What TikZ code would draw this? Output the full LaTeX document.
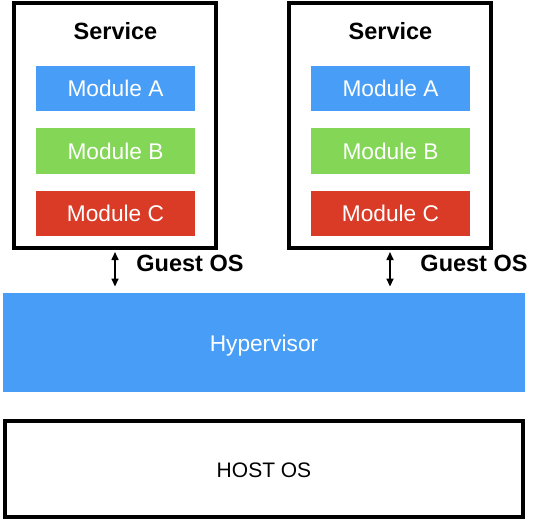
\documentclass[tikz,border=0pt]{standalone}
\usepackage{fontspec}
\setmainfont{Liberation Sans}
\usetikzlibrary{arrows.meta}
\definecolor{modblue}{RGB}{72,158,246}
\definecolor{modgreen}{RGB}{131,214,86}
\definecolor{modred}{RGB}{218,59,39}
\begin{document}
\begin{tikzpicture}[x=1pt,y=-1pt]
  \tikzset{
    service/.style={draw, line width=4pt, minimum width=202pt, minimum height=245pt, inner sep=0pt},
    module/.style={fill=#1, text=white, minimum width=159pt, minimum height=45.7pt, inner sep=0pt, font=\fontsize{22.7}{26}\selectfont},
    layer/.style={minimum width=522pt, minimum height=99.5pt, inner sep=0pt},
    layertext/.style={font=\fontsize{#1}{26}\selectfont},
    title/.style={font=\fontsize{23.5}{27}\selectfont\bfseries},
    guest/.style={<->, >={Triangle[length=8pt,width=7pt]}, line width=1.6pt, shorten <=2pt, shorten >=6pt}
  }
  \useasboundingbox (0,0) rectangle (534,522);

  % left guest
  \node [service] (svcL) at (115,125.5) {};
  \node [title] (titL) at (115.5,31) {Service};
  \node [module=modblue] (modAL) at (115.5,88.5) {Module A};
  \node [module=modgreen] (modBL) at (115.5,151) {Module B};
  \node [module=modred] (modCL) at (115.5,213.5) {Module C};

  % right guest
  \node [service] (svcR) at (390,125.5) {};
  \node [title] (titR) at (390.5,31) {Service};
  \node [module=modblue] (modAR) at (390.5,88.5) {Module A};
  \node [module=modgreen] (modBR) at (390.5,151) {Module B};
  \node [module=modred] (modCR) at (390.5,213.5) {Module C};

  % layers
  \node [layer, fill=modblue] (hyp) at (264,342.5) {};
  \node [layertext=22.7, text=white] (hypText) at ([yshift=-3pt]hyp.center) {Hypervisor};
  \node [layer, draw, line width=4pt, minimum height=95.5pt, minimum width=518pt] (host) at (264,468.75) {};
  \node [layertext=21] (hostText) at ([yshift=-2pt]host.center) {HOST OS};

  \node [title] (gosL) at (190,263) {Guest OS};
  \node [title] (gosR) at (474,263) {Guest OS};

  \draw [guest] (svcL.south) -- (svcL.south |- hyp.north);
  \draw [guest] (svcR.south) -- (svcR.south |- hyp.north);
\end{tikzpicture}
\end{document}
